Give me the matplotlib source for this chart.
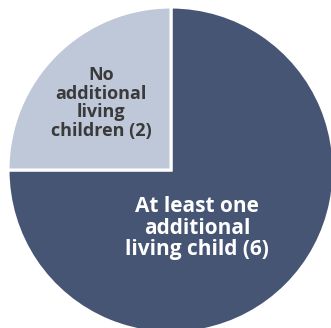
import matplotlib
matplotlib.use("Agg")
import matplotlib.pyplot as plt

# Data
labels = ["At least one\nadditional\nliving child (6)", "No\nadditional\nliving\nchildren (2)"]
counts = [6, 2]
colors = ["#475574", "#bec8d9"]
text_colors = ["white", "#3a3a3a"]
font_sizes = [15, 13]

# geometry in pixels (figure is 331x328)
W, H = 331, 328
cx, cy, r = 171, 170, 163

fig = plt.figure(figsize=(W / 100, H / 100), dpi=100)
ax = fig.add_axes([0, 0, 1, 1])

wedges, _ = ax.pie(counts, colors=colors, startangle=90, counterclock=False,
                   radius=1, wedgeprops=dict(edgecolor="white", linewidth=2.2))

ax.set_xlim(-cx / r, (W - cx) / r)
ax.set_ylim(-(H - cy) / r, cy / r)
ax.set_aspect("equal")
ax.axis("off")

# label positions (pixel centres from the reference)
label_px = [(197, 228), (101, 103)]
for lab, (px, py), tc, fs in zip(labels, label_px, text_colors, font_sizes):
    ax.text((px - cx) / r, (cy - py) / r, lab, ha="center", va="center",
            color=tc, fontsize=fs, fontweight="bold", family="Open Sans",
            linespacing=1.05)

fig.savefig("out.png", dpi=100)
